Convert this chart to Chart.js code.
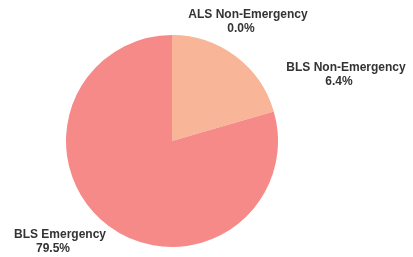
<!DOCTYPE html>
<html>
  <head>
    <script src="https://cdn.jsdelivr.net/npm/chart.js"></script>
    <style>
      html, body {
        margin: 0;
        padding: 0;
        background: #ffffff;
      }
      .chart-box {
        width: 413px;
        height: 257px;
      }
    </style>
  </head>
  <body>
    <div class="chart-box">
      <canvas id="chart"></canvas>
    </div>
    <script>
      // values
      const categories = ['ALS Non-Emergency', 'BLS Non-Emergency', 'BLS Emergency'];
      const sliceValues = [0, 20.5, 79.5];
      const shownPercents = [0.0, 6.4, 79.5];
      const sliceColors = ['#f6a58e', '#f8b597', '#f58a89'];

      // where each label sits, relative to pie centre (px)
      const labelOffsets = [[76, -126], [174, -73], [-112, 94]];

      const sliceLabels = {
        id: 'sliceLabels',
        afterDraw(chart) {
          const ctx = chart.ctx;
          const arc = chart.getDatasetMeta(0).data[0];
          const cx = arc.x, cy = arc.y;
          ctx.save();
          ctx.font = 'bold 12px "Liberation Sans", Arial, sans-serif';
          ctx.fillStyle = '#333333';
          ctx.textAlign = 'center';
          ctx.textBaseline = 'middle';
          categories.forEach(function (name, i) {
            const x = cx + labelOffsets[i][0];
            const y = cy + labelOffsets[i][1];
            ctx.fillText(name, x, y);
            ctx.fillText(shownPercents[i].toFixed(1) + '%', x - 7, y + 14);
          });
          ctx.restore();
        }
      };

      new Chart(document.getElementById('chart'), {
        type: 'pie',
        data: {
          labels: categories,
          datasets: [{
            data: sliceValues,
            backgroundColor: sliceColors,
            borderWidth: 0
          }]
        },
        options: {
          responsive: true,
          maintainAspectRatio: false,
          animation: false,
          layout: {
            padding: { left: 66, right: 135, top: 35, bottom: 10 }
          },
          plugins: {
            legend: { display: false },
            tooltip: { enabled: false }
          }
        },
        plugins: [sliceLabels]
      });
    </script>
  </body>
</html>
